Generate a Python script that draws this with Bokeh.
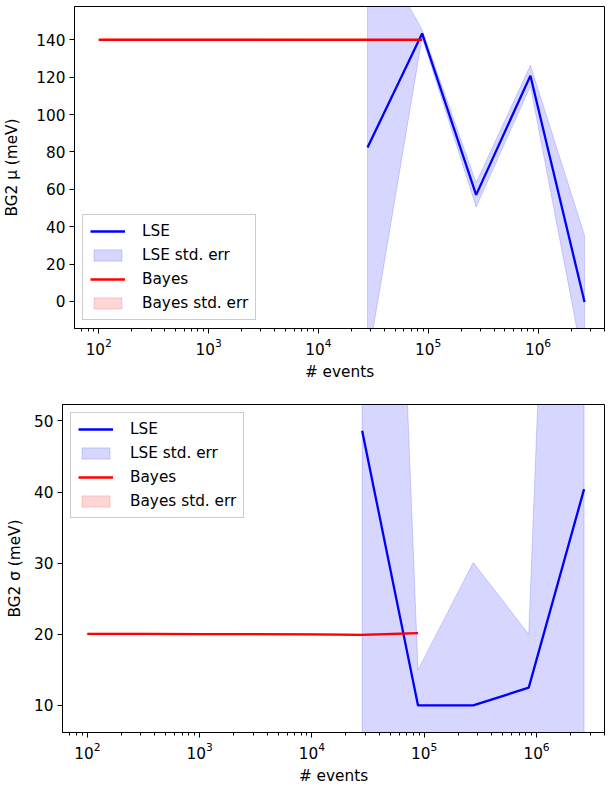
from bokeh.plotting import figure
from bokeh.layouts import column
from bokeh.models import Range1d, Legend, LegendItem, FixedTicker
from bokeh.embed import file_html
from bokeh.resources import INLINE

# ---- data ----
lse_x = [28000, 88000, 273000, 852000, 2650000]
lse_mu = [82.3, 143.4, 57.0, 120.8, -0.3]
lse_mu_err = [115.0, 2.0, 6.5, 5.6, 35.7]
lse_sigma = [48.6, 10.0, 10.0, 12.5, 40.4]
lse_sigma_err = [165.0, 5.0, 20.1, 7.5, 180.0]

bayes_x = [100, 316, 1000, 3160, 10000, 28000, 88000]
bayes_mu = [140.0, 140.0, 140.0, 140.0, 140.0, 140.0, 140.0]
bayes_mu_err = [0.3, 0.3, 0.3, 0.3, 0.2, 0.2, 0.2]
bayes_sigma = [20.05, 20.05, 20.04, 20.03, 20.0, 19.93, 20.18]
bayes_sigma_err = [0.1, 0.1, 0.1, 0.1, 0.1, 0.1, 0.1]

mu_ticks = [0, 20, 40, 60, 80, 100, 120, 140]
sigma_ticks = [10, 20, 30, 40, 50]

FONT = "DejaVu Sans"
FS = "15.3px"
XR = (10 ** 1.779, 10 ** 6.605)


def band_poly(x, y, e):
    up = [a + b for a, b in zip(y, e)]
    lo = [a - b for a, b in zip(y, e)]
    return list(x) + list(x)[::-1], up + lo[::-1]


def make_plot(y, yerr, by, byerr, yr, ticks, ylabel, loc, height, left, top, bottom, lstand):
    p = figure(width=612, height=height, x_axis_type="log",
               x_range=Range1d(*XR), y_range=Range1d(*yr),
               output_backend="svg", toolbar_location=None,
               min_border_left=left, min_border_right=8,
               min_border_top=top, min_border_bottom=bottom)
    try:
        p.frame_align = False
    except Exception:
        pass
    p.grid.visible = False
    p.outline_line_color = "black"
    p.outline_line_alpha = 1
    p.outline_line_width = 1
    p.background_fill_color = "white"
    p.border_fill_color = "white"

    px, py = band_poly(lse_x, y, yerr)
    lse_band = p.patch(px, py, fill_color="blue", fill_alpha=0.16,
                       line_color="blue", line_alpha=0.16, line_width=1)
    bx, byy = band_poly(bayes_x, by, byerr)
    bayes_band = p.patch(bx, byy, fill_color="red", fill_alpha=0.16,
                         line_color="red", line_alpha=0.16, line_width=1)
    lse_line = p.line(lse_x, y, line_color="blue", line_width=2.3)
    bayes_line = p.line(bayes_x, by, line_color="red", line_width=2.3)

    for ax in (p.xaxis[0], p.yaxis[0]):
        ax.axis_line_color = "black"
        ax.major_tick_line_color = "black"
        ax.minor_tick_line_color = "black"
        ax.major_tick_out = 5
        ax.major_tick_in = 0
        ax.minor_tick_out = 3
        ax.minor_tick_in = 0
        ax.major_label_text_font = FONT
        ax.major_label_text_font_size = FS
        ax.major_label_text_color = "black"
        ax.axis_label_text_font = FONT
        ax.axis_label_text_font_size = FS
        ax.axis_label_text_font_style = "normal"
        ax.axis_label_text_color = "black"
        ax.major_label_standoff = 4

    p.yaxis[0].ticker = FixedTicker(ticks=ticks)
    p.yaxis[0].minor_tick_line_color = None
    p.yaxis[0].axis_label = ylabel
    p.yaxis[0].axis_label_standoff = lstand
    p.xaxis[0].axis_label = "# events"
    p.xaxis[0].axis_label_standoff = 5

    legend = Legend(items=[
        LegendItem(label="LSE", renderers=[lse_line]),
        LegendItem(label="LSE std. err", renderers=[lse_band]),
        LegendItem(label="Bayes", renderers=[bayes_line]),
        LegendItem(label="Bayes std. err", renderers=[bayes_band]),
    ], location=loc)
    legend.label_text_font = FONT
    legend.label_text_font_size = FS
    legend.label_text_color = "black"
    legend.border_line_color = "#cccccc"
    legend.border_line_alpha = 1
    legend.background_fill_alpha = 0.8
    legend.glyph_width = 35
    legend.glyph_height = 14
    legend.label_height = 18
    legend.spacing = 6
    legend.padding = 7
    legend.margin = 8
    legend.label_standoff = 17
    p.add_layout(legend)
    return p


p1 = make_plot(lse_mu, lse_mu_err, bayes_mu, bayes_mu_err, (-14.5, 157.8), mu_ticks,
               "BG2 μ (meV)", "bottom_left", 395, 72, 6, 67, 12)
p2 = make_plot(lse_sigma, lse_sigma_err, bayes_sigma, bayes_sigma_err, (6.2, 52.3), sigma_ticks,
               "BG2 σ (meV)", "top_left", 392, 62, 9, 55, 7)

layout = column(p1, p2, spacing=0)
open("out.html", "w").write(file_html(layout, INLINE))
